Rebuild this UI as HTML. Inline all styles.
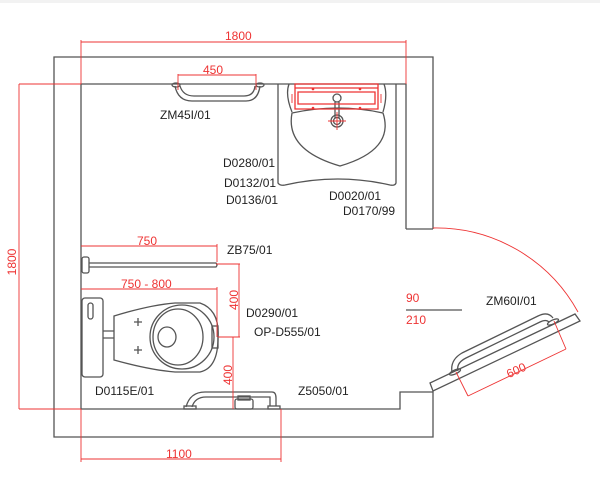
<!DOCTYPE html>
<html><head><style>
html,body{margin:0;padding:0;background:#fff}
svg{display:block}
text{font-family:"Liberation Sans",sans-serif;font-size:12px;fill:#222}
.r{fill:#e33}
</style></head><body>
<svg width="600" height="477" viewBox="0 0 600 477">
<rect x="0" y="0" width="600" height="3" fill="#f2f2f2"/>
<g fill="none" stroke="#555" stroke-width="1.3">
<path d="M433,229 L433,57 L54,57 L54,437 L433,437 L433,391"/>
<path d="M406,229 L433,229 M406,229 L406,84 L81,84 L81,409 L400,409 L400,392 L433,392"/>
<path d="M430,383 L575,314 L580,321 L433,391 Z"/>
<path d="M452,372 Q450,360 462,353 L538,316 Q548,311 553,318" />
<path d="M458,371 Q456,363 466,358 L540,322 Q546,319 549,322"/>
<ellipse cx="455" cy="372" rx="6" ry="2" transform="rotate(-25 455 372)"/>
<ellipse cx="553" cy="322" rx="6" ry="2" transform="rotate(-25 553 322)"/>
<path d="M406,310 L462,310"/>
<path d="M175,86 Q178,101 192,101 L246,101 Q258,101 260,86"/>
<path d="M180,86 Q183,96 194,96 L244,96 Q254,96 255,86"/>
<ellipse cx="176" cy="85" rx="4" ry="2"/><ellipse cx="260" cy="85" rx="4" ry="2"/>
<path d="M278,84 L278,183 Q280,186 285,185 Q338,173 390,185 Q395,186 396,183 L396,84"/>
<path d="M289,84 Q285,95 292,112 M384,84 Q388,95 383,112"/>
<path d="M292,113 Q338,103 383,113 Q395,150 340,166 Q285,150 292,113 Z"/>
<circle cx="337" cy="98" r="4"/>
<path d="M335,102 L335,118 M339,102 L339,118"/>
<circle cx="337" cy="121" r="6"/><circle cx="337" cy="121" r="3.5"/>
<rect x="82" y="257" width="7" height="16" rx="2"/>
<path d="M89,263 L216,263 Q218,265 216,267 L89,267"/>
<rect x="82" y="298" width="21" height="79" rx="3"/>
<rect x="88" y="303" width="5" height="16" rx="2.5"/>
<path d="M103,331 L114,331 M103,338 L114,338"/>
<path d="M114,316 Q150,305 175,303 L200,303 Q220,310 218,338 Q218,368 200,372 L175,372 Q150,370 114,360 Z"/>
<ellipse cx="182" cy="337" rx="32" ry="32"/>
<ellipse cx="178" cy="337" rx="25" ry="28"/>
<ellipse cx="167" cy="337" rx="9" ry="10"/>
<path d="M134,322 L142,322 M138,318 L138,326 M134,350 L142,350 M138,346 L138,354"/>
<rect x="212" y="326" width="6" height="22"/>
<path d="M186,407 Q190,392 205,392 L272,392 Q276,392 276,398 L276,406"/>
<path d="M192,407 Q195,397 206,397 L270,397 L270,406"/>
<rect x="184" y="406" width="12" height="3"/><rect x="268" y="406" width="12" height="3"/>
<rect x="235" y="399" width="18" height="10" rx="2"/>
<rect x="238" y="396" width="12" height="4"/>
</g>
<g fill="none" stroke="#e33" stroke-width="0.9">
<path d="M81,40 L81,84 M406,40 L406,84 M81,42 L406,42"/>
<path d="M19,84 L81,84 M19,409 L81,409 M19,84 L19,409"/>
<path d="M178,74 L178,90 M256,74 L256,90 M178,75 L256,75"/>
<path d="M295,84 L378,84 L378,109 L295,109 Z M295,88 L378,88 M298,92 L375,92 L375,104 L298,104 Z" stroke-width="1.3"/>
<path d="M292,94 L292,103 M381,94 L381,103 M328,121 L346,121 M337,112 L337,130"/>
<path d="M81,246 L217,246 M217,244 L217,262"/>
<path d="M81,289 L217,289 M217,287 L217,337"/>
<path d="M216,264 L240,264 M239,264 L239,337 M218,337 L240,337"/>
<path d="M233,337 L233,409"/>
<path d="M81,409 L81,462 M281,409 L281,462 M81,459 L281,459"/>
<path d="M433,228 A162,162 0 0 1 578,312"/>
<path d="M456,372 L468,396 M554,321 L566,349 M468,396 L566,349"/>
</g>
<g fill="#e33">
<circle cx="313" cy="89" r="1.3"/><circle cx="360" cy="89" r="1.3"/><circle cx="313" cy="108" r="1.3"/><circle cx="360" cy="108" r="1.3"/>
</g>
<text class="r" x="225" y="40">1800</text>
<text class="r" x="203" y="74">450</text>
<text class="r" x="16" y="262" transform="rotate(-90 16 262)" text-anchor="middle">1800</text>
<text class="r" x="137" y="245">750</text>
<text class="r" x="121" y="288">750 - 800</text>
<text class="r" x="238" y="300" transform="rotate(-90 238 300)" text-anchor="middle">400</text>
<text class="r" x="232" y="375" transform="rotate(-90 232 375)" text-anchor="middle">400</text>
<text class="r" x="166" y="458">1100</text>
<text class="r" x="406" y="302">90</text>
<text class="r" x="406" y="324">210</text>
<text class="r" x="518" y="374" transform="rotate(-25 518 374)" text-anchor="middle">600</text>
<text x="160" y="119">ZM45I/01</text>
<text x="223" y="167">D0280/01</text>
<text x="224" y="187">D0132/01</text>
<text x="226" y="204">D0136/01</text>
<text x="329" y="200">D0020/01</text>
<text x="343" y="215">D0170/99</text>
<text x="227" y="254">ZB75/01</text>
<text x="246" y="317">D0290/01</text>
<text x="254" y="336">OP-D555/01</text>
<text x="95" y="395">D0115E/01</text>
<text x="298" y="395">Z5050/01</text>
<text x="486" y="305">ZM60I/01</text>
</svg>
</body></html>
